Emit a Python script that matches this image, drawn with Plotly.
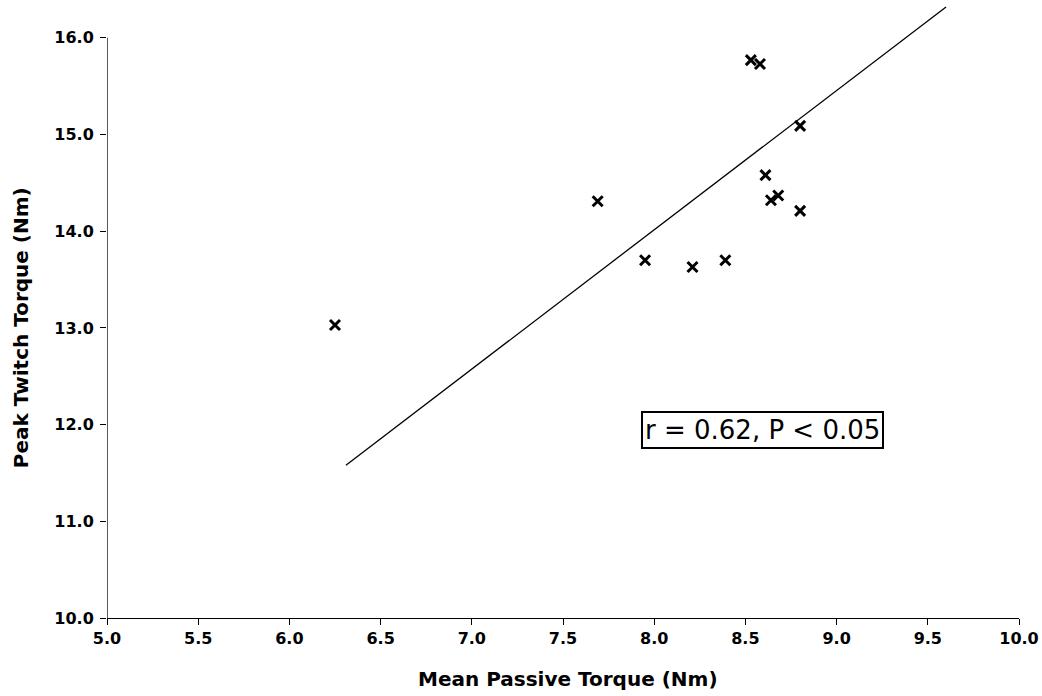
import plotly.graph_objects as go

# Mean passive torque vs peak twitch torque for each subject
passive_torque = [8.53, 8.58, 8.80, 8.61, 8.64, 8.68, 8.80, 7.69, 7.95, 8.21, 8.39, 6.25]
twitch_torque = [15.77, 15.73, 15.09, 14.58, 14.32, 14.37, 14.21, 14.31, 13.70, 13.63, 13.70, 13.03]

# Fitted trend line endpoints
trend_x = [6.31, 9.60]
trend_y = [11.58, 16.32]

x_ticks = [5.0, 5.5, 6.0, 6.5, 7.0, 7.5, 8.0, 8.5, 9.0, 9.5, 10.0]
y_ticks = [10.0, 11.0, 12.0, 13.0, 14.0, 15.0, 16.0]

stat_label = "r = 0.62, P < 0.05"
x_title = "Mean Passive Torque (Nm)"
y_title = "Peak Twitch Torque (Nm)"

FONT = "DejaVu Sans, Arial, sans-serif"

fig = go.Figure()

fig.add_trace(go.Scatter(
    x=trend_x, y=trend_y, mode="lines",
    line=dict(color="black", width=1.3),
    hoverinfo="skip", showlegend=False,
))

fig.add_trace(go.Scatter(
    x=passive_torque, y=twitch_torque, mode="markers",
    marker=dict(symbol="x-thin", size=10, color="black",
                line=dict(color="black", width=3)),
    showlegend=False,
))

# y axis line stops at the top tick while the plot area extends above it
fig.add_shape(type="line", xref="x", yref="y", x0=5.0, x1=5.0, y0=10.0, y1=16.0,
              line=dict(color="black", width=1.3))

fig.add_annotation(
    x=8.596, y=11.945, xref="x", yref="y",
    text=stat_label, showarrow=False,
    font=dict(family=FONT, size=26, color="black"),
    bordercolor="black", borderwidth=2, borderpad=2,
    bgcolor="white",
)

# axis titles, centred on the labelled ranges
fig.add_annotation(
    x=0.505, y=-0.100, xref="paper", yref="paper",
    xanchor="center", yanchor="middle",
    text=f"<b>{x_title}</b>", showarrow=False,
    font=dict(family=FONT, size=20, color="black"),
)
fig.add_annotation(
    x=-0.094, y=13.0, xref="paper", yref="y",
    xanchor="center", yanchor="middle", textangle=-90,
    text=f"<b>{y_title}</b>", showarrow=False,
    font=dict(family=FONT, size=20, color="black"),
)

fig.update_layout(
    width=1042, height=696,
    margin=dict(l=107, r=23, t=4, b=78),
    paper_bgcolor="white", plot_bgcolor="white",
    font=dict(family=FONT, color="black"),
    xaxis=dict(
        range=[5.0, 10.0], tickvals=x_ticks,
        ticktext=[f"{v:.1f}" for v in x_ticks],
        showgrid=False, zeroline=False,
        showline=True, linecolor="black", linewidth=1.3,
        ticks="outside", ticklen=6, tickcolor="black", tickwidth=1,
        tickfont=dict(family=FONT, size=16, color="black", weight="bold"),
    ),
    yaxis=dict(
        range=[10.0, 16.35], tickvals=y_ticks,
        ticktext=[f"{v:.1f}" for v in y_ticks],
        showgrid=False, zeroline=False, showline=False,
        ticks="outside", ticklen=6, tickcolor="black", tickwidth=1,
        ticklabelstandoff=3,
        tickfont=dict(family=FONT, size=16, color="black", weight="bold"),
    ),
)

fig.write_html("out.html")
